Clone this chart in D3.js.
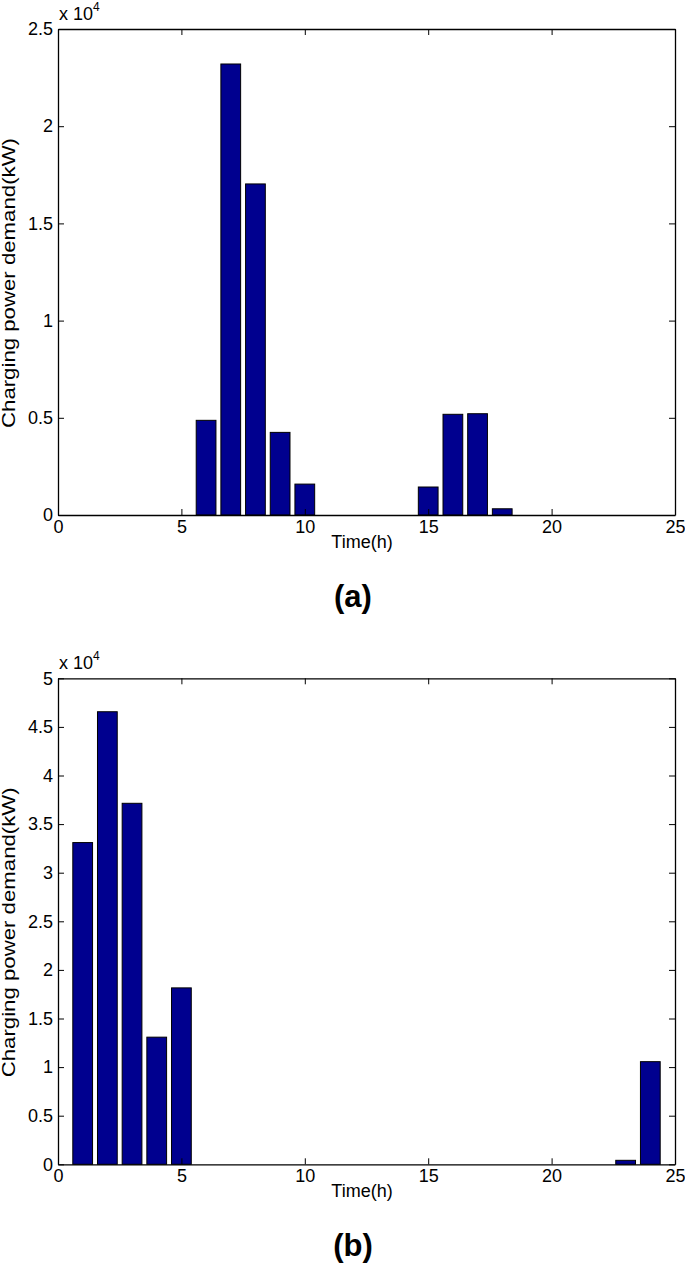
<!DOCTYPE html>
<html>
<head>
<meta charset="utf-8">
<script src="https://cdn.jsdelivr.net/npm/d3@7"></script>
<style>
  body { margin: 0; background: #fff; }
  svg text { font-family: "Liberation Sans", Arial, sans-serif; fill: #000; }
</style>
</head>
<body>
<div id="chart"></div>
<script>
// Hours of the day (bar positions)
const hours = [1, 2, 3, 4, 5, 6, 7, 8, 9, 10, 11, 12,
               13, 14, 15, 16, 17, 18, 19, 20, 21, 22, 23, 24];

// Charging power demand (kW), panel (a)
const demandA = [0, 0, 0, 0, 0, 4870, 23200, 17030, 4250, 1590, 0, 0,
                 0, 0, 1440, 5180, 5210, 320, 0, 0, 0, 0, 0, 0];

// Charging power demand (kW), panel (b)
const demandB = [33100, 46560, 37140, 13080, 18150, 0, 0, 0, 0, 0, 0, 0,
                 0, 0, 0, 0, 0, 0, 0, 0, 0, 0, 410, 10560];

const xTicks = [0, 5, 10, 15, 20, 25];
const yTicksA = [0, 5000, 10000, 15000, 20000, 25000];
const yTicksB = [0, 5000, 10000, 15000, 20000, 25000, 30000, 35000, 40000, 45000, 50000];

const W = 685, H = 1266;
const svg = d3.select("#chart")
  .append("svg")
  .attr("width", W)
  .attr("height", H);

const left = 58, right = 675, plotH = 486;
const barColor = "#00008f";
const tick = 6;

function drawPanel(top, values, yTicks, tag) {
  const x = d3.scaleLinear().domain([0, 25]).range([left, right]);
  const y = d3.scaleLinear().domain([0, d3.max(yTicks)]).range([top + plotH, top]);

  const g = svg.append("g");

  // Bars
  g.selectAll("rect.bar")
    .data(hours.map((h, i) => ({ h, v: values[i] })))
    .enter()
    .append("rect")
    .attr("class", "bar")
    .attr("x", d => x(d.h - 0.4))
    .attr("width", x(0.8) - x(0))
    .attr("y", d => y(d.v))
    .attr("height", d => y(0) - y(d.v))
    .attr("fill", barColor)
    .attr("stroke", "#000")
    .attr("stroke-width", 1);

  const fmt = d => String(d / 10000);

  // Axes with inward ticks on all four sides (box)
  const axB = g.append("g")
    .attr("transform", `translate(0,${top + plotH})`)
    .call(d3.axisBottom(x).tickValues(xTicks).tickSize(-tick).tickSizeOuter(0).tickPadding(5));
  const axL = g.append("g")
    .attr("transform", `translate(${left},0)`)
    .call(d3.axisLeft(y).tickValues(yTicks).tickFormat(fmt).tickSize(-tick).tickSizeOuter(0).tickPadding(5));
  g.append("g")
    .attr("transform", `translate(0,${top})`)
    .call(d3.axisTop(x).tickValues(xTicks).tickSize(-tick).tickSizeOuter(0).tickFormat(""));
  g.append("g")
    .attr("transform", `translate(${right},0)`)
    .call(d3.axisRight(y).tickValues(yTicks).tickSize(-tick).tickSizeOuter(0).tickFormat(""));

  g.selectAll(".domain").attr("stroke", "#000").attr("stroke-width", 1.3);
  g.selectAll(".tick line").attr("stroke", "#000");
  axB.selectAll("text").style("font-size", "18px").attr("fill", "#000");
  axL.selectAll("text").style("font-size", "18px").attr("fill", "#000");

  // Exponent label
  const ex = g.append("text")
    .attr("x", left + 1)
    .attr("y", top - 9)
    .style("font-size", "18px");
  ex.append("tspan").text("x 10");
  ex.append("tspan").attr("dy", -9).style("font-size", "12px").text("4");

  // X axis label
  g.append("text")
    .attr("x", 362)
    .attr("y", top + plotH + 33)
    .attr("text-anchor", "middle")
    .style("font-size", "18px")
    .text("Time(h)");

  // Y axis label
  g.append("text")
    .attr("transform", `translate(15,${top + plotH / 2 + 11}) rotate(-90)`)
    .attr("text-anchor", "middle")
    .attr("textLength", 290)
    .attr("lengthAdjust", "spacingAndGlyphs")
    .style("font-size", "18px")
    .text("Charging power demand(kW)");

  // Panel tag
  g.append("text")
    .attr("x", 353)
    .attr("y", top + plotH + 92)
    .attr("text-anchor", "middle")
    .style("font-size", "31px")
    .style("font-weight", "bold")
    .text(tag);
}

drawPanel(29, demandA, yTicksA, "(a)");
drawPanel(678.3, demandB, yTicksB, "(b)");
</script>
</body>
</html>
